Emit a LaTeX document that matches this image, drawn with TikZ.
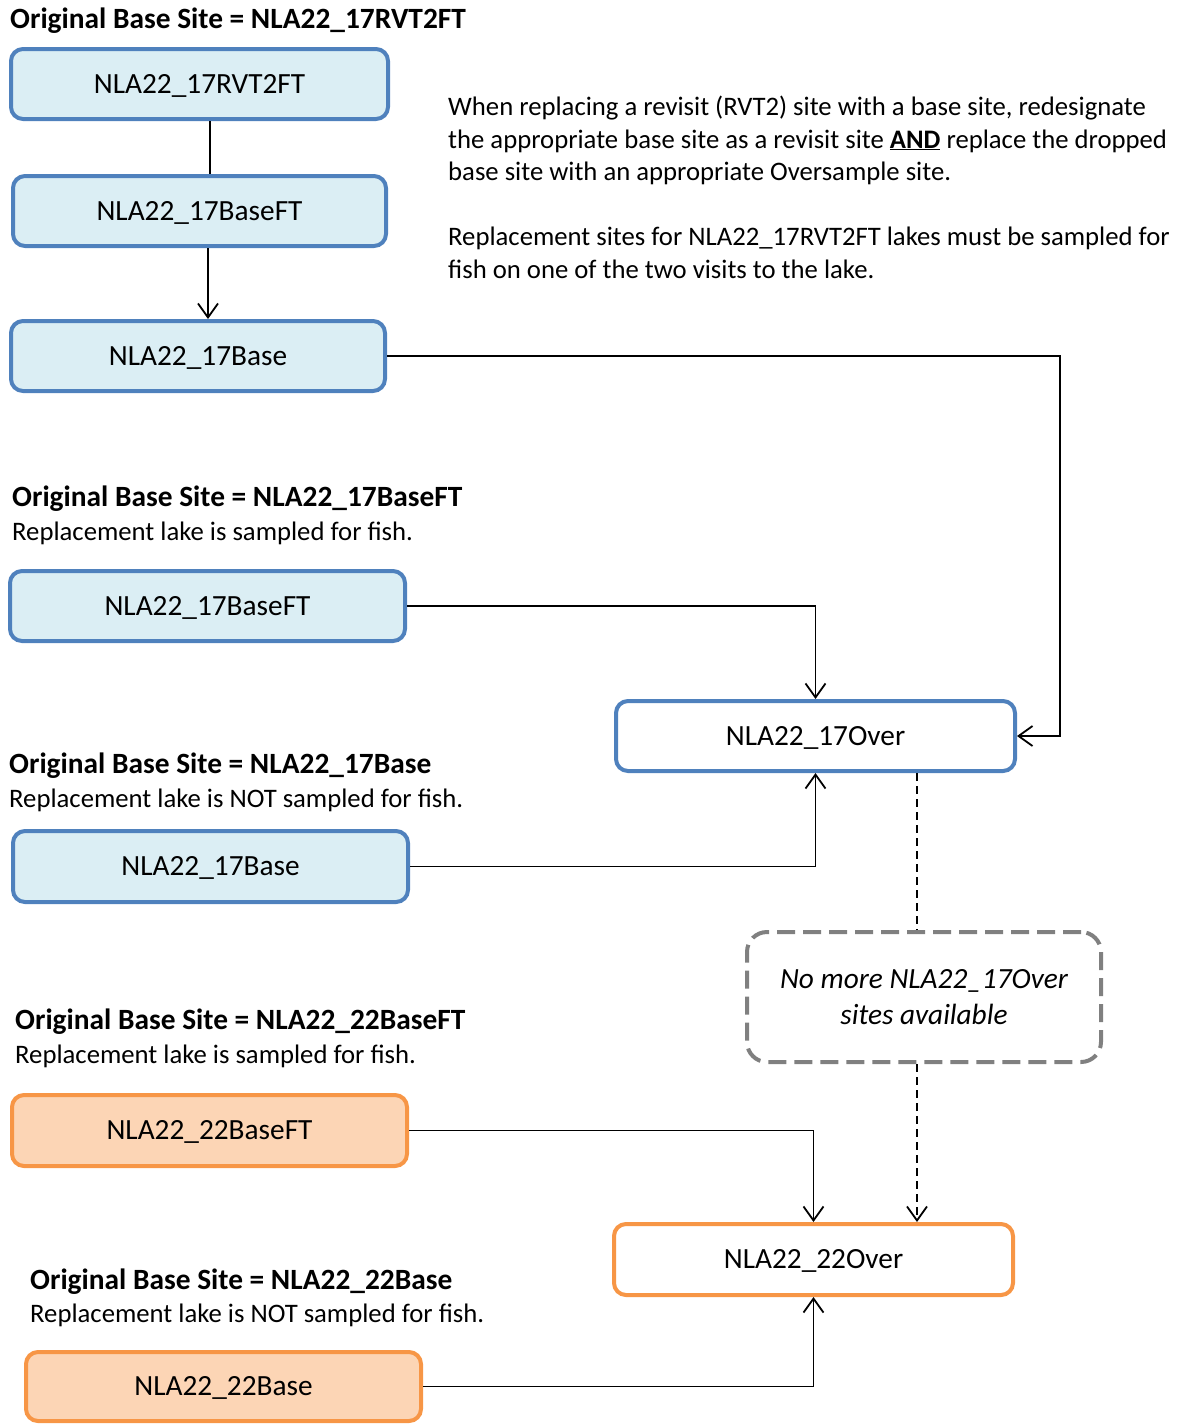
\documentclass[tikz,border=0pt]{standalone}
\usepackage{fontspec}
\setmainfont{Carlito}
\usetikzlibrary{arrows.meta}
\definecolor{sitebluedraw}{RGB}{79,129,189}
\definecolor{sitebluefill}{RGB}{219,238,244}
\definecolor{siteorangedraw}{RGB}{247,150,70}
\definecolor{siteorangefill}{RGB}{252,213,181}
\definecolor{nogray}{RGB}{128,128,128}
\begin{document}
\begin{tikzpicture}[x=1pt,y=-1pt,
  sitebox/.style={draw, line width=4pt, rounded corners=12pt, inner sep=0pt,
    font=\fontsize{29.3}{34}\selectfont, text height=18.8pt, text depth=0pt},
  bluebox/.style={sitebox, draw=sitebluedraw, fill=sitebluefill},
  blueover/.style={sitebox, draw=sitebluedraw, fill=white},
  orangebox/.style={sitebox, draw=siteorangedraw, fill=siteorangefill},
  orangeover/.style={sitebox, draw=siteorangedraw, fill=white},
  nobox/.style={draw=nogray, line width=4pt, rounded corners=20pt,
    dash pattern=on 18pt off 8pt, fill=white, align=center, inner sep=0pt,
    font=\fontsize{29.3}{36}\selectfont\itshape},
  heading/.style={anchor=base west, inner sep=0pt, font=\fontsize{29.4}{34}\selectfont\bfseries},
  subtext/.style={anchor=base west, inner sep=0pt, font=\fontsize{26.7}{32.5}\selectfont},
  link/.style={line width=1.8pt, -{Straight Barb[length=14pt,width=20pt]}},
  plainlink/.style={line width=1.8pt},
  dashlink/.style={line width=1.8pt, dash pattern=on 8pt off 5pt},
]
\useasboundingbox (0,0) rectangle (1178,1425);

% group: NLA22_17RVT2FT
\node[heading] (h1) at (10,28) {Original Base Site = NLA22\_17RVT2FT};
\node[bluebox, minimum width=377pt, minimum height=70pt] (a) at (199.5,84) {NLA22\_17RVT2FT};
\node[bluebox, minimum width=373pt, minimum height=70pt] (b) at (199.5,211) {NLA22\_17BaseFT};
\node[bluebox, minimum width=374pt, minimum height=70pt] (c) at (198,356) {NLA22\_17Base};

% explanatory note
\node[anchor=north west, inner sep=0pt, align=left,
      font=\fontsize{26.7}{32.5}\selectfont] (note) at (448,96)
  {When replacing a revisit (RVT2) site with a base site, redesignate\\
   the appropriate base site as a revisit site \textbf{\underline{AND}} replace the dropped\\
   base site with an appropriate Oversample site.\\[32.5pt]
   Replacement sites for NLA22\_17RVT2FT lakes must be sampled for\\
   fish on one of the two visits to the lake.};

% group: NLA22_17BaseFT
\node[heading] (h2) at (12,506) {Original Base Site = NLA22\_17BaseFT};
\node[subtext] (s2) at (12,540) {Replacement lake is sampled for fish.};
\node[bluebox, minimum width=395pt, minimum height=70pt] (d) at (207.5,606) {NLA22\_17BaseFT};

% oversample 17
\node[blueover, minimum width=399pt, minimum height=70pt] (o17) at (815.5,736) {NLA22\_17Over};

% group: NLA22_17Base
\node[heading] (h3) at (9,773) {Original Base Site = NLA22\_17Base};
\node[subtext] (s3) at (9,807) {Replacement lake is NOT sampled for fish.};
\node[bluebox, minimum width=395pt, minimum height=71pt] (e) at (210.5,866.5) {NLA22\_17Base};

% no more oversample sites
\node[nobox, minimum width=354pt, minimum height=130pt] (none) at (924,997)
  {No more NLA22\_17Over\\sites available};

% group: NLA22_22BaseFT
\node[heading] (h4) at (15,1029) {Original Base Site = NLA22\_22BaseFT};
\node[subtext] (s4) at (15,1063) {Replacement lake is sampled for fish.};
\node[orangebox, minimum width=395pt, minimum height=71pt] (f) at (209.5,1130.5) {NLA22\_22BaseFT};

% oversample 22
\node[orangeover, minimum width=399pt, minimum height=71pt] (o22) at (813.5,1259.5) {NLA22\_22Over};

% group: NLA22_22Base
\node[heading] (h5) at (30,1289) {Original Base Site = NLA22\_22Base};
\node[subtext] (s5) at (30,1322) {Replacement lake is NOT sampled for fish.};
\node[orangebox, minimum width=395pt, minimum height=69pt] (g) at (223.5,1386.5) {NLA22\_22Base};

% guide columns for the connectors
\coordinate (colab) at (210,0);
\coordinate (colbc) at (208,0);
\coordinate (colright) at (1060,0);
\coordinate (coldash) at (917,0);

% connectors
\draw[plainlink] (a.south -| colab) -- (b.north -| colab);
\draw[link] (b.south -| colbc) -- (c.north -| colbc);
\draw[link] (c.east) -- (c.east -| colright) |- (o17.east);
\draw[link] (d.east) -| (o17.north);
\draw[link] (e.east) -| (o17.south);
\draw[dashlink] (o17.south -| coldash) -- (none.north -| coldash);
\draw[dashlink, -{Straight Barb[length=14pt,width=20pt]}] (none.south -| coldash) -- (o22.north -| coldash);
\draw[link] (f.east) -| (o22.north);
\draw[link] (g.east) -| (o22.south);
\end{tikzpicture}
\end{document}
